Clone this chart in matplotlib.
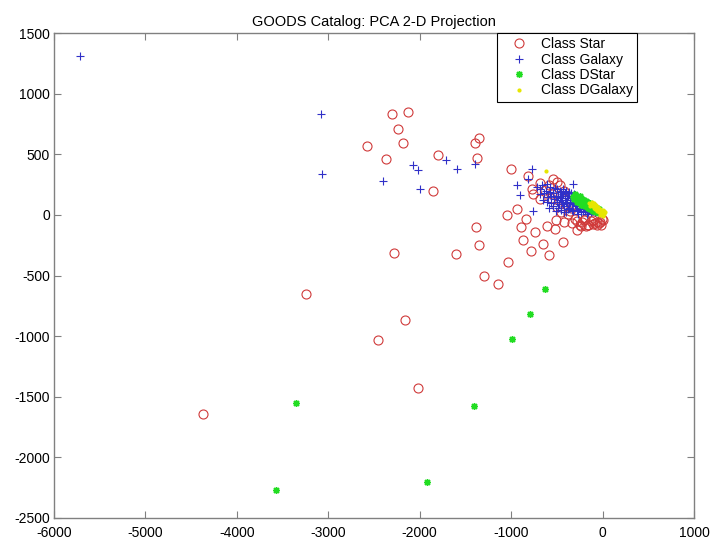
import matplotlib

matplotlib.use("Agg")
import matplotlib.pyplot as plt

plt.rcParams["font.family"] = ["Liberation Sans", "DejaVu Sans"]
plt.rcParams["axes.unicode_minus"] = False

# PCA component 1 / component 2 scores per class
star_x = [
    -4365, -3249, -2451, -2166, -2024, -2582, -2308, -2133, -2243, -2188,
    -2374, -1805, -1860, -1357, -1400, -1378, -1389, -1357, -2286, -1608,
    -1302, -1149, -1007, -820, -1050, -941, -842, -897, -744, -875,
    -788, -656, -591, -438, -1039, -525, -514, -613, -459, -503,
    -689, -503, -635, -558, -777, -689, -766, -361, -284, -252,
    -164, -66, -197, -470, -306, -420, -380, -330, -230, -180,
    -130, -100, -60, -30, -10, -560, -420, -350,
    -280, -240, -200, -160, -110, -80, -45, -20, 0, -590, -540,
]
star_y = [
    -1640, -651, -1030, -865, -1425, 569, 832, 849, 709, 593,
    461, 494, 198, 634, 593, 470, -99, -247, -313, -321,
    -503, -569, 379, 321, 0, 49, -33, -99, -140, -206,
    -297, -239, -330, -222, -387, -115, -41, -91, 25, 66,
    264, 272, 206, 173, 214, 132, 173, 33, -124, -82,
    -82, -82, -33, 247, -33, -60, 10, -70, -60, -90,
    -50, -75, -55, -60, -30, 140, 200, 60,
    -50, -90, -40, -80, -45, -70, -65, -80, -40, 250, 300,
]

galaxy_x = [
    -5710, -3080, -3070, -2407, -2079, -2024, -2002, -1718, -1597, -1400,
    -777, -820, -941, -908, -766, -328, -613, -438,
    -720, -690, -660, -650, -620, -600, -590, -570, -560, -540,
    -530, -510, -500, -490, -480, -470, -455, -450, -440, -430,
    -420, -410, -400, -395, -385, -375, -365, -355, -345, -335,
    -325, -320, -310, -300, -290, -280, -270, -260, -250, -240,
    -230, -220, -210, -200, -190, -180, -170, -160, -150, -140,
    -130, -120, -100, -90,
    -680, -640, -610, -580, -560, -545, -520, -515, -500, -485,
    -470, -460, -445, -430, -425, -415, -405, -390, -380, -370,
    -360, -350, -340, -330, -315, -305, -295, -285, -275, -265,
    -255, -245, -235, -225, -215, -205, -195, -185, -175, -165,
    -155, -145, -135, -115, -110, -80,
]
galaxy_y = [
    1310, 830, 340, 280, 412, 371, 214, 453, 379, 420,
    379, 297, 247, 165, 33, 256, 256, 214,
    230, 170, 250, 120, 200, 150, 60, 230, 100, 180,
    130, 30, 210, 160, 90, 140, 190, 40, 110, 170,
    70, 140, 200, 20, 100, 160, 60, 120, 180, 90,
    140, 30, 110, 160, 70, 120, 10, 90, 140, 50,
    100, 130, 30, 80, 110, 50, 10, 70, 40, 90,
    20, 60, 30, 50,
    210, 180, 110, 190, 160, 70, 220, 150, 110, 60,
    200, 120, 160, 90, 20, 180, 110, 140, 50, 190,
    100, 150, 40, 120, 170, 80, 130, 40, 100, 150,
    60, 110, 20, 80, 60, 100, 30, 80, 40, 90,
    20, 60, 40, 30, 70, 20,
]

dstar_x = [
    -3350, -3570, -1920, -1410, -995, -790, -625,
    -320, -300, -290, -275, -260, -250, -240, -230, -220, -210,
    -200, -190, -180, -170, -160, -150, -140, -130, -120, -110,
    -100, -90, -80, -70, -60, -50, -40,
    -310, -295, -280, -265, -245, -235, -215, -205, -195, -185,
    -175, -165, -155, -145, -135, -125, -115, -105, -95, -85,
    -75, -65, -55, -45, -35,
]
dstar_y = [
    -1550, -2270, -2200, -1580, -1020, -815, -615,
    150, 170, 130, 150, 120, 160, 100, 135, 110, 80,
    125, 95, 70, 110, 85, 55, 95, 70, 40, 80,
    55, 30, 65, 40, 20, 50, 30,
    130, 155, 110, 135, 145, 85, 125, 100, 75, 115,
    90, 60, 100, 75, 50, 85, 60, 35, 70, 45,
    25, 55, 35, 15, 45,
]

dgalaxy_x = [
    -620, -150, -130, -120, -100, -90, -80, -70, -60, -50,
    -40, -30, -20, -10, 0, 10, 20, -25, 5,
    -140, -110, -95, -85, -75, -65, -55, -45, -35, -15,
    -5, 15, 25,
]
dgalaxy_y = [
    360, 100, 80, 110, 70, 95, 50, 80, 40, 65,
    20, 50, 30, 5, 40, 20, 35, 0, -5,
    75, 90, 60, 85, 60, 30, 55, 40, 30, 15,
    25, 10, 25,
]

fig = plt.figure(figsize=(7.12, 5.42), dpi=100)
ax = fig.add_axes([0.0758, 0.0443, 0.899, 0.8947])

ax.plot(star_x, star_y, "o", linestyle="none", markerfacecolor="none",
        markeredgecolor="#d03a3a", markersize=6.5, markeredgewidth=0.8, label="Class Star")
ax.plot(galaxy_x, galaxy_y, "+", linestyle="none", color="#3030c8",
        markersize=6, markeredgewidth=0.8, label="Class Galaxy")
ax.plot(dstar_x, dstar_y, marker=(8, 2, 0), linestyle="none", color="#22dd22",
        markersize=5, markeredgewidth=1.0, label="Class DStar")
ax.plot(dgalaxy_x, dgalaxy_y, ".", linestyle="none", color="#e6e600",
        markersize=4, label="Class DGalaxy")

ax.set_xlim(-6000, 1000)
ax.set_ylim(-2500, 1500)
ax.set_xticks(range(-6000, 1001, 1000))
ax.set_yticks(range(-2500, 1501, 500))
ax.tick_params(direction="in", length=5, width=0.8, color="#808080",
               top=True, right=True, labelsize=10)
ax.tick_params(axis="x", pad=6)
ax.tick_params(axis="y", pad=3)
for spine in ax.spines.values():
    spine.set_color("#808080")
    spine.set_linewidth(1.0)

ax.set_title("GOODS Catalog: PCA 2-D Projection", fontsize=10.5, pad=5)

leg = ax.legend(loc="upper right", bbox_to_anchor=(0.911, 1.0), borderaxespad=0,
                fontsize=10, fancybox=False, framealpha=1, edgecolor="black",
                handlelength=2.6, handletextpad=0.25, labelspacing=0.1,
                borderpad=0.3)
leg.get_frame().set_linewidth(0.8)

fig.savefig("out.png")
